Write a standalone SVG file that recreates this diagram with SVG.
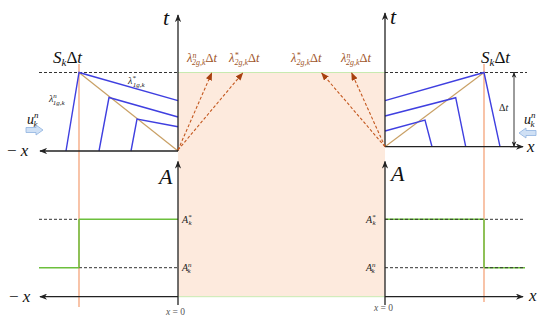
<svg xmlns="http://www.w3.org/2000/svg" width="550" height="324" viewBox="0 0 550 324">
<style>
.ax{stroke:#222;stroke-width:1.3;fill:none}
.dash{stroke:#333;stroke-width:1;stroke-dasharray:3,2;fill:none}
.blue{stroke:#3f3fe0;stroke-width:1.4;fill:none}
.tan{stroke:#c9a065;stroke-width:1.2;fill:none}
.org{stroke:#f4a47a;stroke-width:1.3;fill:none}
.grn{stroke:#6cbf3c;stroke-width:1.5;fill:none}
.lg{stroke:#c8eab0;stroke-width:1;fill:none}
.brn{stroke:#c4581f;stroke-width:1.1;stroke-dasharray:3,2;fill:none}
text{font-family:'Liberation Serif','DejaVu Serif',serif;font-style:italic;fill:#111}
.big{font-size:22px}
.bl{fill:#a0552a;font-size:12.5px}
.sm{font-size:10px;fill:#222}
.tiny{font-size:9.5px;fill:#555}
.up{font-style:normal}
</style>
<defs>
<marker id="ah" viewBox="0 0 10 8" refX="9" refY="4" markerWidth="8" markerHeight="6.4" orient="auto" markerUnits="userSpaceOnUse">
<path d="M0,0 L10,4 L0,8 L3,4 z" fill="#222"/>
</marker>
<marker id="ahb" viewBox="0 0 10 8" refX="9" refY="4" markerWidth="8" markerHeight="6.4" orient="auto" markerUnits="userSpaceOnUse">
<path d="M0,0 L10,4 L0,8 z" fill="#a8400f"/>
</marker>
<marker id="ahs" viewBox="0 0 10 8" refX="9" refY="4" markerWidth="6" markerHeight="5" orient="auto-start-reverse" markerUnits="userSpaceOnUse">
<path d="M0,0 L10,4 L0,8 L3,4 z" fill="#222"/>
</marker>
</defs>

<g id="pink-region">
<rect x="178" y="72.5" width="207" height="224" fill="#fdeadd"/>
<line class="lg" x1="178" y1="72.5" x2="385" y2="72.5"/>
<line class="lg" x1="178" y1="296.7" x2="385" y2="296.7"/>
</g>

<g id="left-top">
<line class="dash" x1="39" y1="72.5" x2="178" y2="72.5"/>
<line class="org" x1="79" y1="64" x2="79" y2="307"/>
<line class="tan" x1="79" y1="72.5" x2="178" y2="151"/>
<polyline class="blue" points="66,151 79,72.5 178,100.7"/>
<polyline class="blue" points="99,151 109,97.5 178,117"/>
<polyline class="blue" points="131,151 137,119 178,126.7"/>
<line class="ax" x1="178" y1="151" x2="178" y2="15" marker-end="url(#ah)"/>
<line class="ax" x1="178" y1="151" x2="40" y2="151" marker-end="url(#ah)"/>
<text class="big" x="163" y="25">t</text>
<text x="7" y="156" font-size="17"><tspan class="up">−</tspan> x</text>
<text x="53" y="63" font-size="17">S<tspan font-size="11" dy="3">k</tspan><tspan class="up" dy="-3">Δ</tspan>t</text>
<text class="sm" x="128" y="84">λ<tspan font-size="7" dy="-4">*</tspan><tspan font-size="7" dx="-3" dy="7">1g,k</tspan></text>
<text class="sm" x="49" y="102">λ<tspan font-size="7" dy="-4">n</tspan><tspan font-size="7" dx="-4" dy="7">1g,k</tspan></text>
<text x="27" y="124" font-size="14">u<tspan font-size="9" dy="-6">n</tspan><tspan font-size="9" dx="-5" dy="9">k</tspan></text>
<path d="M26,127.5 L36,127.5 L36,125 L43,130 L36,135 L36,132.5 L26,132.5 z" fill="#cfe0f5" stroke="#8fb2e0" stroke-width="0.8"/>
</g>

<g id="right-top">
<line class="dash" x1="385" y1="72.5" x2="527" y2="72.5"/>
<line class="org" x1="484" y1="64" x2="484" y2="302"/>
<line class="tan" x1="385" y1="146.7" x2="484" y2="72.5"/>
<polyline class="blue" points="500,146.7 484,72.5 385,100.7"/>
<polyline class="blue" points="465.7,146.7 455.7,97.7 385,116"/>
<polyline class="blue" points="432,146.7 425,120 385,131"/>
<line class="ax" x1="385" y1="146.7" x2="385" y2="13" marker-end="url(#ah)"/>
<line class="ax" x1="385" y1="146.7" x2="523" y2="146.7" marker-end="url(#ah)"/>
<text class="big" x="390" y="24">t</text>
<text x="527" y="152" font-size="17">x</text>
<text x="481" y="63" font-size="17">S<tspan font-size="11" dy="3">k</tspan><tspan class="up" dy="-3">Δ</tspan>t</text>
<line x1="514" y1="146.7" x2="514" y2="72.5" stroke="#222" stroke-width="0.9" marker-start="url(#ahs)" marker-end="url(#ahs)"/>
<line x1="510" y1="72.5" x2="518" y2="72.5" stroke="#222" stroke-width="0.9"/>
<line x1="510" y1="146.7" x2="518" y2="146.7" stroke="#222" stroke-width="0.9"/>
<text class="sm" x="499" y="111" font-size="11"><tspan class="up">Δ</tspan>t</text>
<text x="524" y="124" font-size="14">u<tspan font-size="9" dy="-6">n</tspan><tspan font-size="9" dx="-5" dy="9">k</tspan></text>
<path d="M536,130.5 L526,130.5 L526,128 L519,133 L526,138 L526,135.5 L536,135.5 z" fill="#cfe0f5" stroke="#8fb2e0" stroke-width="0.8"/>
</g>

<g id="middle-waves">
<line class="brn" x1="178" y1="150" x2="211.7" y2="73" marker-end="url(#ahb)"/>
<line class="brn" x1="178" y1="150" x2="242.7" y2="73" marker-end="url(#ahb)"/>
<line class="brn" x1="385" y1="146.7" x2="321.7" y2="73" marker-end="url(#ahb)"/>
<line class="brn" x1="385" y1="146.7" x2="351.7" y2="73" marker-end="url(#ahb)"/>
<text class="bl" x="187" y="62">λ<tspan font-size="8" dy="-4">n</tspan><tspan font-size="8" dx="-4.5" dy="7">2g,k</tspan><tspan class="up" dy="-3">Δ</tspan>t</text>
<text class="bl" x="229" y="62">λ<tspan font-size="8" dy="-4">*</tspan><tspan font-size="8" dx="-4" dy="7">2g,k</tspan><tspan class="up" dy="-3">Δ</tspan>t</text>
<text class="bl" x="291" y="62">λ<tspan font-size="8" dy="-4">*</tspan><tspan font-size="8" dx="-4" dy="7">2g,k</tspan><tspan class="up" dy="-3">Δ</tspan>t</text>
<text class="bl" x="341" y="62">λ<tspan font-size="8" dy="-4">n</tspan><tspan font-size="8" dx="-4.5" dy="7">2g,k</tspan><tspan class="up" dy="-3">Δ</tspan>t</text>
</g>

<g id="left-bottom">
<line class="dash" x1="39" y1="219.3" x2="79" y2="219.3"/>
<line class="grn" x1="79" y1="219.3" x2="178" y2="219.3"/>
<line class="grn" x1="39" y1="267.7" x2="79" y2="267.7"/>
<line class="dash" x1="79" y1="267.7" x2="178" y2="267.7"/>
<line class="grn" x1="79" y1="219.3" x2="79" y2="267.7"/>
<line class="ax" x1="178" y1="305" x2="178" y2="161.5" marker-end="url(#ah)"/>
<line class="ax" x1="178" y1="296.7" x2="40" y2="296.7" marker-end="url(#ah)"/>
<text class="big" x="159" y="184">A</text>
<text x="9" y="302" font-size="17"><tspan class="up">−</tspan> x</text>
<text class="sm" x="182" y="223">A<tspan font-size="7" dy="-4">*</tspan><tspan font-size="7" dx="-3" dy="6">k</tspan></text>
<text class="sm" x="182" y="271">A<tspan font-size="7" dy="-4">n</tspan><tspan font-size="7" dx="-4" dy="6">k</tspan></text>
<text class="tiny" x="166" y="315">x <tspan class="up">= 0</tspan></text>
</g>

<g id="right-bottom">
<line class="grn" x1="385" y1="219.3" x2="484" y2="219.3"/>
<line class="dash" x1="385" y1="219.3" x2="525" y2="219.3"/>
<line class="grn" x1="484" y1="267.7" x2="525" y2="267.7"/>
<line class="dash" x1="385" y1="267.7" x2="525" y2="267.7"/>
<line class="grn" x1="484" y1="219.3" x2="484" y2="267.7"/>
<line class="ax" x1="385" y1="305" x2="385" y2="161.5" marker-end="url(#ah)"/>
<line class="ax" x1="385" y1="296.7" x2="523" y2="296.7" marker-end="url(#ah)"/>
<text class="big" x="391" y="181">A</text>
<text x="529" y="301" font-size="17">x</text>
<text class="sm" x="366" y="223">A<tspan font-size="7" dy="-4">*</tspan><tspan font-size="7" dx="-3" dy="6">k</tspan></text>
<text class="sm" x="366" y="271">A<tspan font-size="7" dy="-4">n</tspan><tspan font-size="7" dx="-4" dy="6">k</tspan></text>
<text class="tiny" x="374" y="311">x <tspan class="up">= 0</tspan></text>
</g>
</svg>
